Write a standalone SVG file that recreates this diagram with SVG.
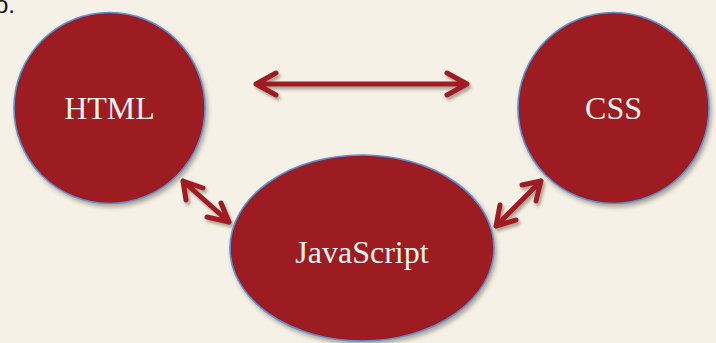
<svg xmlns="http://www.w3.org/2000/svg" width="716" height="343" viewBox="0 0 716 343">
  <defs>
    <filter id="shadow" x="-20%" y="-20%" width="150%" height="150%">
      <feDropShadow dx="2" dy="3" stdDeviation="2.2" flood-color="#5a4a30" flood-opacity="0.45"/>
    </filter>
    <filter id="arrowShadow" x="-20%" y="-50%" width="150%" height="200%">
      <feDropShadow dx="2" dy="3" stdDeviation="1.8" flood-color="#5a4a30" flood-opacity="0.45"/>
    </filter>
  </defs>
  <style>
    .node { fill: #9c1a22; stroke: #5b8fd0; stroke-width: 1.6; filter: url(#shadow); }
    .label { font-family: "Liberation Serif", "Times New Roman", serif; font-size: 32px; fill: #faf3ee; text-anchor: middle; }
    .arrow { fill: none; stroke: #a01b24; stroke-width: 5; stroke-linecap: round; stroke-linejoin: round; filter: url(#arrowShadow); }
  </style>
  <rect width="716" height="343" fill="#f5f1e6"/>
  <text x="-5" y="13" font-family="Liberation Sans, Arial, sans-serif" font-size="24" fill="#111">o.</text>

  <g id="connectors">
    <!-- HTML <-> CSS -->
    <path class="arrow" d="M256 84 L467 84 M276 73 L256 84 L276 95 M447 73 L467 84 L447 95"/>
    <!-- HTML <-> JavaScript -->
    <path class="arrow" d="M183 181 L229 222 M203 188 L183 181 L186 200 M221 203 L229 222 L207 217"/>
    <!-- CSS <-> JavaScript -->
    <path class="arrow" d="M541 181 L496 226 M522 185 L541 181 L536 201 M500 205 L496 226 L516 220"/>
  </g>

  <g id="node-html">
    <circle class="node" cx="109.5" cy="108" r="95.5"/>
    <text class="label" x="109.5" y="119">HTML</text>
  </g>
  <g id="node-css">
    <circle class="node" cx="613.5" cy="108" r="95.5"/>
    <text class="label" x="613.5" y="119">CSS</text>
  </g>
  <g id="node-javascript">
    <ellipse class="node" cx="362" cy="248" rx="132" ry="93"/>
    <text class="label" x="362" y="263">JavaScript</text>
  </g>
</svg>
